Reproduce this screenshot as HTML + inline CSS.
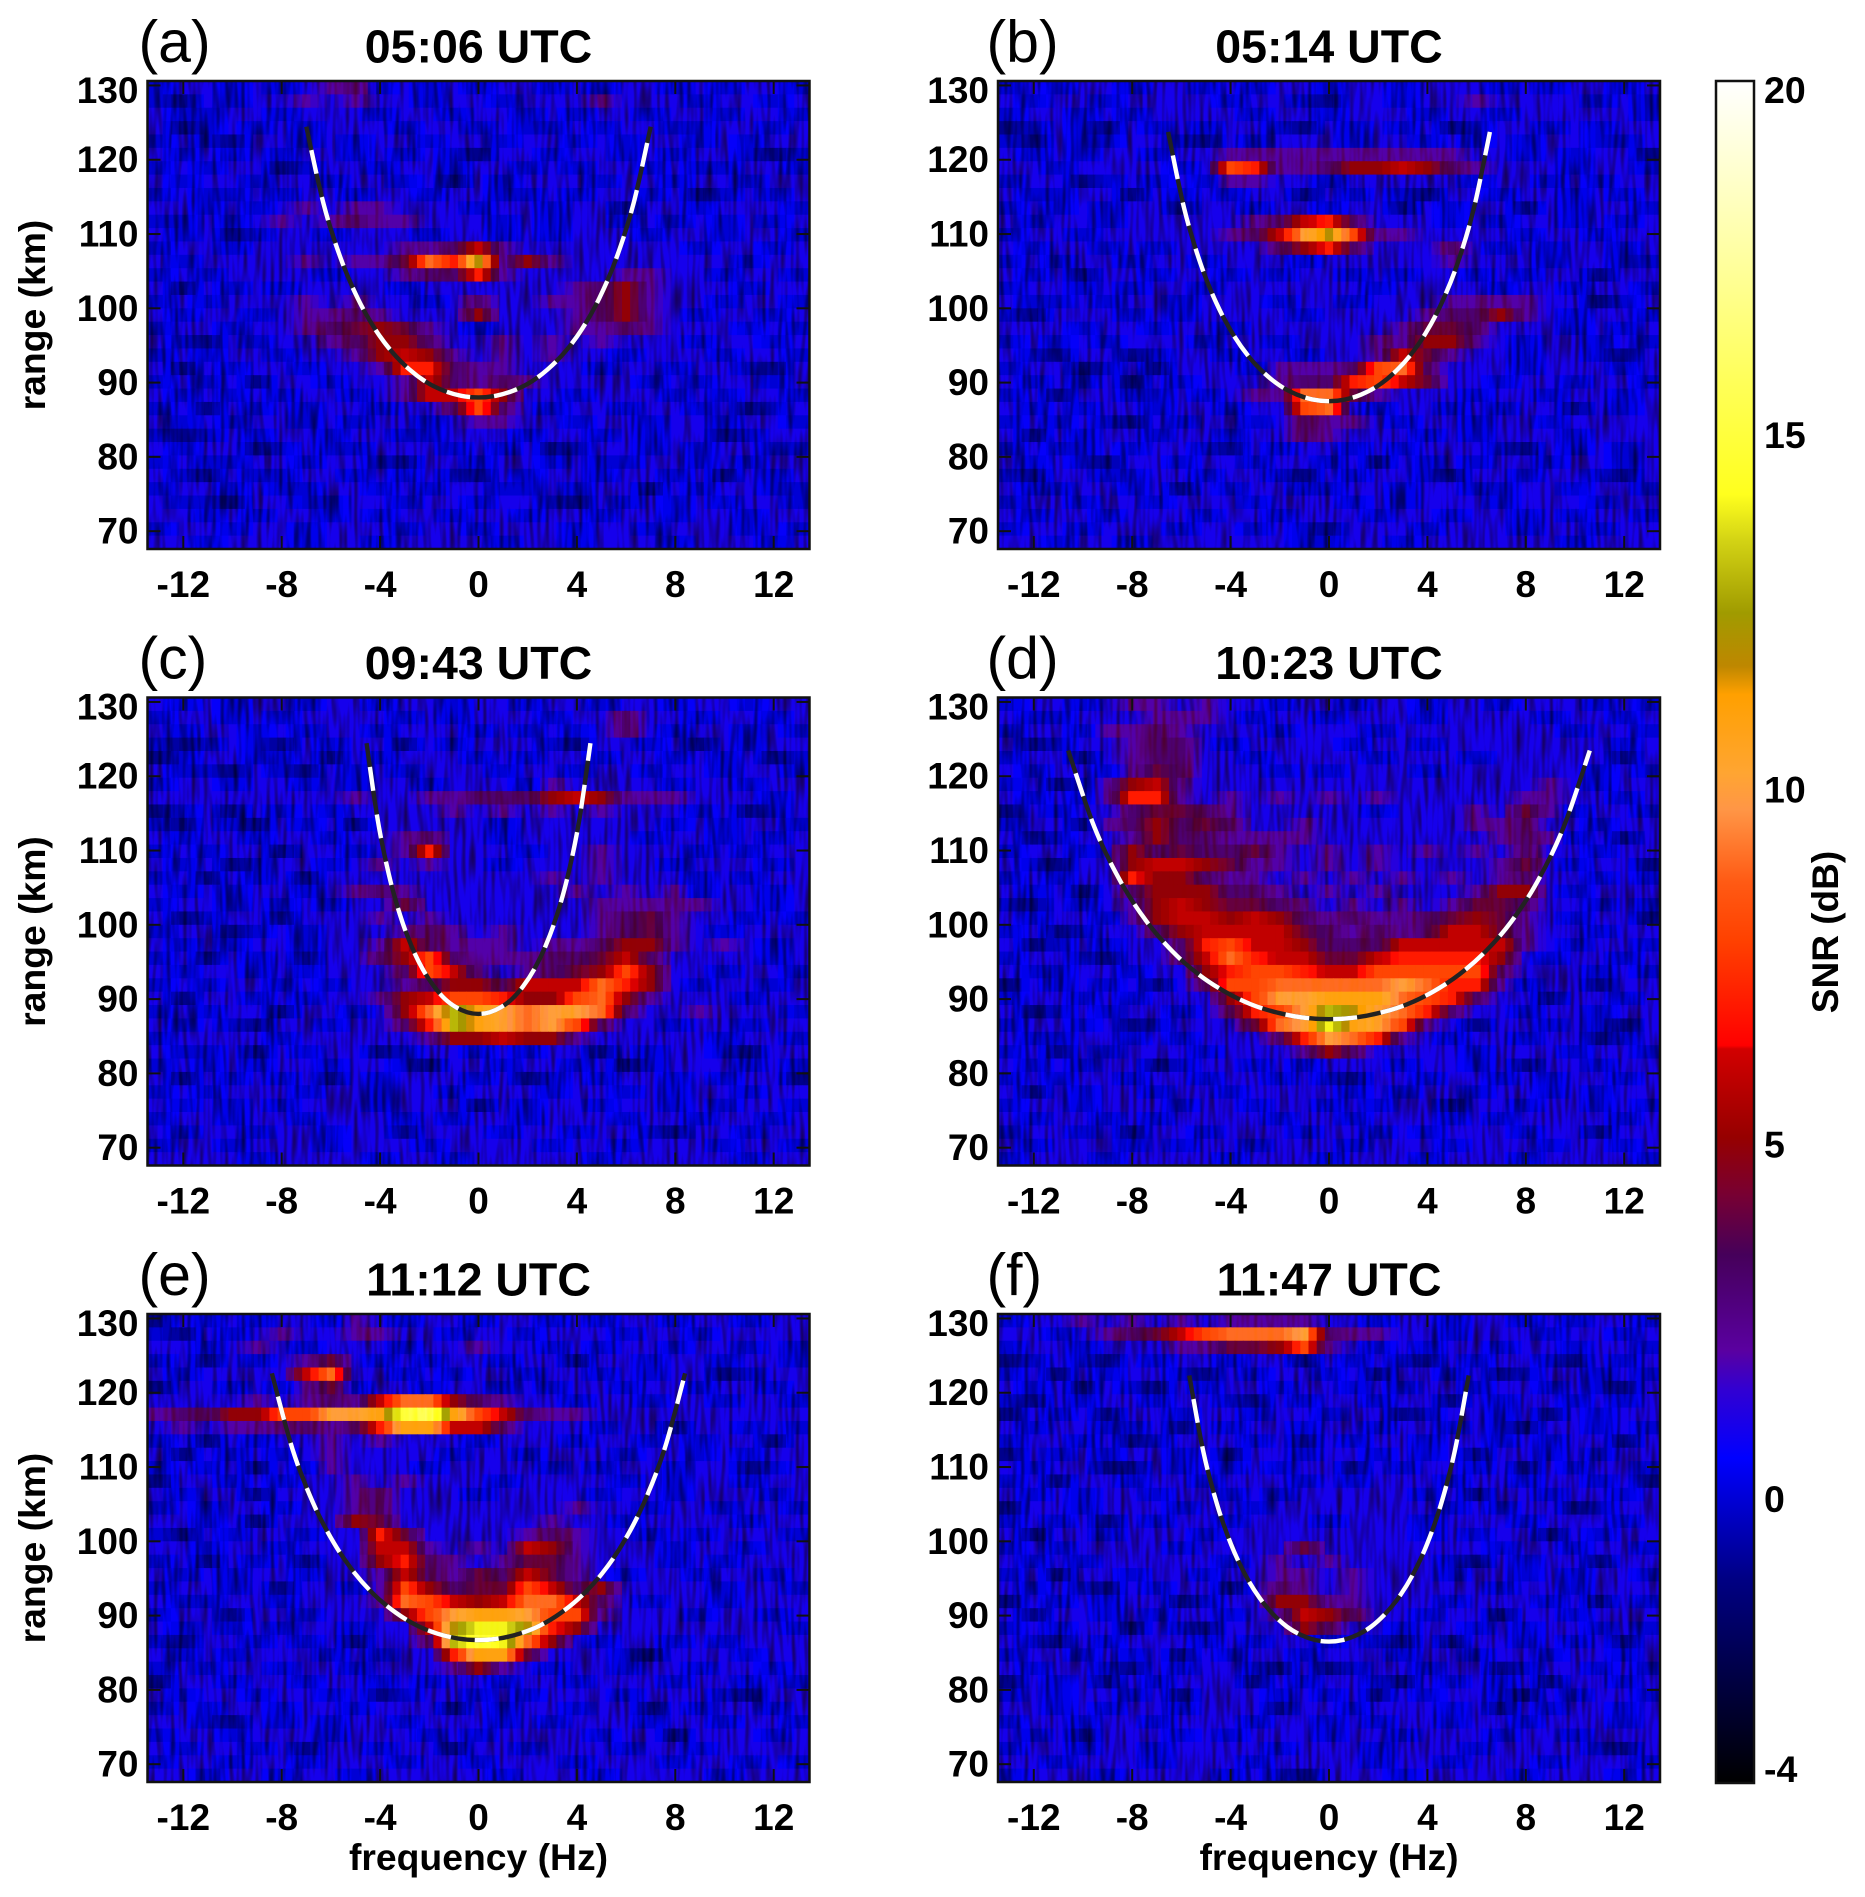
<!DOCTYPE html>
<html lang="en">
<head>
<meta charset="utf-8">
<title>SNR range-frequency panels</title>
<style>
html,body{margin:0;padding:0;background:#fff;}
svg{display:block;}
text{font-family:"Liberation Sans",Arial,sans-serif;fill:#000;}
.bold{font-weight:700;}
</style>
</head>
<body>
<svg id="chart" xmlns="http://www.w3.org/2000/svg" width="1865" height="1897" viewBox="0 0 1865 1897"></svg>
<script>
const panelNames = ["a","b","c","d","e","f"];
const panelTimes = ["05:06 UTC","05:14 UTC","09:43 UTC","10:23 UTC","11:12 UTC","11:47 UTC"];
const xTickValues = [-12,-8,-4,0,4,8,12];
const yTickValues = [70,80,90,100,110,120,130];
const colorbarTickValues = [20,15,10,5,0,-4];
const curveVertexKm = [88,87.5,88,87.3,86.7,86.5];
const curveEndHz = [7,6.54,4.55,10.6,8.4,5.68];
const curveU = [-1,-0.9,-0.8,-0.7,-0.6,-0.5,-0.4,-0.3,-0.2,-0.1,0,0.1,0.2,0.3,0.4,0.5,0.6,0.7,0.8,0.9,1];
const curveRatio = [1.4142,1.2964,1.2127,1.1509,1.1043,1.069,1.0426,1.023,1.0102,1.0025,1,1.0025,1.0102,1.023,1.0426,1.069,1.1043,1.1509,1.2127,1.2964,1.4142];
const colormapValues = [-4,-1.15,0.58,1.55,2.1,3.45,4.3,5.1,6.35,6.4,7.88,8.7,9.73,10.24,11.35,11.75,12.5,13.5,14.17,15.78,17.5,20];
const colormapReds = [0,0,0,50,90,70,120,150,210,255,255,255,255,255,255,190,160,210,255,255,255,255];
const colormapGreens = [0,0,0,0,0,0,0,0,0,0,65,90,150,165,160,135,155,210,255,255,255,255];
const colormapBlues = [0,130,255,210,160,90,50,0,0,0,0,20,70,50,0,0,0,20,30,90,160,255];

const snrA = [
[0,1,1,0,1,0,1,2,3,0,1,0,1,0,1,1,0,1,0,1,1,0,1,0,1,1,0],
[0,-1,1,0,1,1,2,1,2,1,1,0,1,1,0,1,1,1,2,1,1,1,0,1,1,0,1],
[1,0,0,1,1,0,1,1,1,0,1,1,0,1,1,0,1,0,1,1,0,1,1,0,1,1,0],
[1,-1,0,1,0,1,0,1,1,1,0,1,1,0,1,0,0,1,0,1,1,0,0,1,1,0,1],
[0,1,0,-1,1,1,0,1,0,1,1,0,1,1,0,1,1,0,1,0,1,1,0,1,0,1,1],
[1,0,1,0,1,0,1,1,0,1,0,1,0,-1,1,1,0,1,1,0,1,0,1,1,0,-1,0],
[0,1,0,1,1,-1,0,1,1,0,1,1,0,1,1,0,1,0,1,1,0,1,0,0,1,1,0],
[1,0,1,1,0,1,1,0,1,1,0,1,-1,1,0,1,1,1,0,1,1,0,1,1,0,1,1],
[0,1,0,0,1,0,1,1,0,1,1,0,1,1,0,0,1,0,1,1,0,1,-1,0,1,0,1],
[1,1,0,1,0,1,2,1,2,2,1,1,1,0,1,1,0,1,1,-1,1,1,0,1,1,1,0],
[0,0,1,0,1,2,1,2,3,2,2,1,1,1,0,1,0,1,1,0,1,0,1,0,1,0,1],
[1,0,1,-1,0,1,1,0,1,1,1,0,1,1,0,1,0,1,1,1,0,1,1,0,1,1,0],
[0,1,1,0,1,1,1,1,1,1,2,2,3,6,2,1,1,1,1,1,1,1,0,1,1,0,1],
[1,0,1,1,1,1,2,1,2,2,4,9,7,12,2,5,2,1,1,1,1,1,1,1,0,1,1],
[0,1,0,1,1,1,1,0,1,1,2,3,3,7,2,1,1,1,1,2,2,1,1,0,1,1,0],
[1,-1,1,0,1,0,1,1,1,1,0,1,1,1,1,1,1,2,3,5,2,1,1,1,0,1,1],
[0,1,0,1,1,1,2,1,2,1,1,0,1,3,1,1,2,2,3,5,2,1,1,0,1,1,0],
[1,0,1,1,0,1,2,2,3,2,1,1,1,5,1,1,1,2,3,5,2,1,0,1,1,0,1],
[0,1,1,0,1,1,2,3,4,5,4,2,1,0,1,1,1,2,2,3,2,1,1,1,0,1,0],
[1,0,-1,1,0,1,1,2,3,5,5,3,1,1,2,1,2,1,2,1,1,1,0,1,1,0,1],
[0,1,0,1,1,0,1,1,2,5,6,5,2,1,2,1,2,1,1,0,1,1,1,0,1,1,0],
[1,-1,1,0,1,1,0,1,1,2,7,7,3,2,2,1,1,1,0,1,1,0,1,1,0,-1,1],
[0,1,0,1,-1,1,1,0,1,1,2,6,3,2,3,2,1,1,1,1,0,1,0,1,1,0,1],
[1,0,1,0,1,0,1,1,0,1,2,6,6,8,5,1,1,0,1,1,1,0,1,0,1,1,0],
[0,1,-1,1,0,1,0,1,1,0,1,1,3,8,3,1,0,1,1,0,1,1,0,1,-1,0,1],
[1,0,1,0,1,1,0,1,0,1,1,0,1,2,2,1,1,0,1,1,0,1,1,0,1,1,0],
[0,-1,0,1,0,1,1,0,1,1,0,0,1,1,1,0,1,1,0,1,0,1,1,-1,0,1,1],
[1,0,1,1,-1,0,1,0,0,1,1,1,0,1,0,1,-1,0,1,1,0,1,0,1,1,0,0],
[0,1,0,0,1,1,0,1,1,0,-1,1,1,0,1,1,0,1,0,0,1,1,0,1,0,1,1],
[1,0,-1,1,0,0,1,1,0,1,0,1,0,-1,1,0,1,1,0,1,1,0,1,-1,1,0,1],
[0,1,1,0,1,0,0,1,1,0,1,0,1,1,0,0,1,0,1,1,-1,1,0,1,1,0,0],
[1,0,0,-1,1,1,0,0,1,1,0,1,1,0,1,1,0,-1,1,0,1,0,1,0,1,1,0],
[1,1,0,1,0,1,1,0,1,0,1,1,0,1,1,0,1,1,0,1,1,0,1,1,0,1,1],
[0,1,1,0,1,1,0,1,1,1,0,1,1,0,1,1,1,0,1,1,0,1,1,1,0,1,0],
[1,1,0,1,1,1,0,1,1,0,1,1,1,1,0,1,1,0,1,1,1,0,1,1,1,0,1]
];
const snrB = [
[0,1,0,1,1,0,1,1,0,1,0,1,1,0,1,1,0,1,1,1,0,1,0,1,1,0,1],
[1,0,1,1,0,1,1,1,1,0,1,1,0,-1,1,1,0,1,1,2,1,1,1,1,0,1,0],
[0,1,1,0,1,0,1,1,1,1,0,1,1,0,1,1,1,0,1,1,0,1,1,1,1,1,0],
[-1,0,1,0,-1,1,0,1,0,1,1,0,-1,1,0,1,0,1,-1,0,1,1,0,1,0,1,1],
[0,-1,1,0,0,1,1,0,-1,1,0,1,1,1,0,1,1,0,1,0,1,0,1,1,0,0,1],
[1,0,1,0,1,1,0,1,1,2,2,2,2,2,2,2,2,2,2,1,1,0,1,0,1,1,-1],
[1,1,0,1,1,1,1,0,1,8,7,2,2,3,5,5,6,5,3,2,1,1,1,0,1,1,0],
[0,1,1,-1,0,1,0,1,0,2,2,1,1,0,1,1,1,1,1,0,1,1,0,1,0,1,1],
[1,0,0,1,1,-1,1,0,1,0,1,1,-1,1,0,1,0,-1,1,1,0,1,1,0,1,0,1],
[0,1,0,1,0,1,1,-1,1,1,0,1,1,0,1,1,-1,1,0,1,1,-1,1,0,1,1,0],
[1,0,1,1,0,1,1,1,1,1,2,3,6,7,3,1,1,1,0,1,0,1,1,0,1,0,1],
[0,1,1,0,1,1,1,1,1,2,3,6,10,12,8,2,2,1,1,1,1,0,1,1,0,1,1],
[1,0,1,1,0,1,0,1,1,1,1,3,5,7,3,1,1,1,3,1,0,1,0,1,1,0,1],
[0,1,0,1,1,0,1,1,0,1,1,1,0,1,1,1,1,1,2,1,1,1,0,1,1,0,0],
[1,0,1,-1,1,1,0,1,1,0,1,0,1,1,0,1,0,1,1,0,1,0,1,1,-1,1,1],
[0,1,1,0,1,0,1,1,0,1,1,1,1,1,1,0,1,1,1,1,0,1,1,0,1,1,0],
[1,0,0,1,0,1,1,0,1,1,1,0,1,1,0,1,1,1,2,2,2,2,1,1,-1,0,1],
[0,-1,1,1,1,0,1,0,1,1,1,1,0,1,1,1,1,2,3,3,5,2,1,0,1,1,0],
[1,1,1,0,1,1,0,1,1,0,1,1,1,1,1,1,2,4,4,3,1,1,1,0,1,0,1],
[0,1,0,1,0,1,1,1,0,1,1,0,1,1,1,2,2,5,5,2,1,0,1,1,0,1,0],
[1,0,-1,1,1,-1,0,1,1,0,1,1,0,1,1,2,6,4,2,1,1,0,1,1,0,-1,1],
[0,1,1,-1,0,1,-1,1,1,1,0,2,2,2,3,8,9,3,1,1,1,0,1,1,1,0,1],
[1,0,1,0,1,-1,1,0,1,1,1,2,3,3,7,8,6,4,1,1,0,1,1,0,1,1,0],
[0,1,-1,1,1,0,0,1,0,1,2,2,9,9,4,2,1,1,1,0,1,1,0,1,1,0,1],
[1,0,1,0,1,1,0,1,1,0,1,1,8,9,1,0,1,1,0,1,0,1,1,-1,1,0,1],
[0,1,0,1,0,-1,1,0,1,1,0,1,3,2,2,1,0,1,1,0,1,1,0,1,1,1,1],
[1,-1,1,0,1,1,0,1,1,0,1,1,3,2,1,1,1,0,1,0,1,1,1,0,1,1,1],
[0,1,0,0,1,0,1,1,0,-1,1,0,1,1,0,1,0,1,1,1,0,-1,1,0,1,0,1],
[1,0,1,0,-1,1,1,0,1,1,0,1,1,0,1,-1,1,0,1,0,1,1,0,1,1,0,1],
[0,-1,1,1,0,0,1,1,0,1,1,0,-1,1,0,1,1,0,-1,1,1,0,1,1,0,-1,1],
[1,0,0,1,1,0,1,-1,1,0,1,1,0,0,1,1,0,1,1,0,0,1,1,0,1,1,0],
[0,1,1,0,1,1,0,1,1,1,0,1,1,1,0,1,0,1,1,1,0,1,1,1,0,1,1],
[1,0,1,1,0,1,1,1,0,1,1,0,1,1,1,0,1,1,0,1,1,0,1,0,1,1,0],
[0,1,1,0,1,1,1,0,1,1,0,1,0,-1,1,1,1,0,1,1,1,0,1,1,0,1,1],
[1,1,0,1,1,0,1,1,1,1,1,1,0,0,1,1,0,1,1,1,1,1,1,0,1,1,1]
];
const snrC = [
[1,0,1,0,1,1,0,1,1,0,1,1,0,1,1,0,1,1,0,1,1,0,1,1,0,1,1],
[0,1,1,0,1,0,1,1,1,1,0,1,0,1,1,1,0,1,1,3,1,1,0,1,1,0,1],
[1,0,1,1,0,1,0,1,1,0,1,1,1,0,1,0,1,0,1,3,1,0,1,1,0,1,0],
[0,-1,0,1,0,-1,1,0,1,1,-1,1,0,1,1,1,0,-1,1,1,0,1,-1,1,0,1,1],
[-1,0,1,1,0,0,1,-1,1,0,1,1,1,0,1,0,1,1,0,1,1,0,1,0,1,-1,0],
[1,0,0,-1,1,0,-1,1,0,1,0,1,1,1,0,1,1,0,1,1,0,1,1,0,1,1,0],
[0,1,1,0,1,1,0,1,0,1,1,0,1,1,1,0,2,1,1,1,1,0,1,1,0,1,1],
[1,1,1,1,1,1,1,1,2,1,1,2,2,3,3,3,5,6,5,2,2,2,1,1,1,0,1],
[-1,0,1,-1,1,0,1,0,1,1,1,1,2,1,2,1,2,1,2,1,1,1,0,1,-1,0,1],
[0,-1,1,0,-1,1,0,1,-1,1,1,1,1,1,0,1,1,1,1,1,1,0,1,0,1,1,0],
[1,0,1,1,0,1,1,0,1,1,2,3,1,1,0,1,1,1,1,1,0,1,1,0,1,0,1],
[0,1,0,1,1,-1,1,1,0,1,2,7,1,1,1,0,1,1,2,1,1,1,0,1,0,1,1],
[1,0,1,-1,0,1,1,0,1,2,1,2,1,1,0,1,1,1,2,1,1,0,1,1,1,0,1],
[0,1,-1,1,0,1,-1,1,1,1,1,1,1,1,1,1,2,1,2,1,1,1,0,1,0,1,1],
[1,0,1,0,1,1,0,1,2,3,2,1,1,1,1,1,1,2,1,2,1,2,0,1,1,0,1],
[0,1,1,0,1,0,1,0,1,1,4,1,1,1,1,1,1,1,2,2,2,2,2,1,1,0,1],
[1,-1,0,1,1,-1,1,1,1,2,1,2,1,1,1,1,1,1,2,3,4,2,1,1,0,1,0],
[0,1,1,-1,0,1,0,1,1,1,2,3,2,1,2,1,1,1,2,3,4,2,1,0,1,1,1],
[1,0,1,0,1,1,0,1,1,2,6,3,2,2,2,1,2,2,3,5,5,2,1,2,1,0,1],
[0,1,-1,1,0,1,-1,1,1,3,5,8,3,2,2,2,3,3,4,6,3,1,1,1,1,0,1],
[1,0,1,1,0,1,0,1,1,1,3,8,6,2,1,2,3,4,5,8,5,1,1,0,1,1,0],
[0,1,0,1,1,0,1,0,1,1,2,3,5,5,3,6,6,6,9,7,5,1,0,1,1,0,1],
[1,-1,1,1,0,1,0,1,1,2,5,6,8,8,7,5,5,8,9,5,2,1,1,1,0,1,1],
[0,1,0,1,1,-1,1,1,0,1,5,9,13,11,10,9,10,10,9,3,1,1,2,1,1,1,0],
[1,0,1,0,-1,1,1,0,1,1,3,7,13,11,10,9,10,8,3,1,1,0,1,1,0,1,1],
[0,1,1,1,1,0,1,1,1,1,1,2,5,5,6,5,5,2,1,1,1,1,1,0,1,1,0],
[1,0,0,1,-1,1,0,1,1,-1,0,1,1,0,1,0,1,1,-1,1,0,1,1,0,-1,1,1],
[0,1,0,1,0,1,1,0,1,1,0,-1,1,1,0,1,1,0,1,-1,0,1,1,1,0,1,0],
[1,-1,1,0,1,0,1,-1,1,0,1,1,1,0,1,-1,0,1,0,1,1,0,1,0,1,1,-1],
[0,1,0,1,1,1,0,1,1,0,1,1,0,1,1,1,0,1,1,0,1,0,1,1,0,1,1],
[1,0,1,0,1,0,1,1,1,0,1,1,1,-1,1,0,1,1,0,1,1,0,1,0,1,1,0],
[0,1,1,0,1,1,0,1,1,1,0,1,0,1,1,0,1,1,1,0,1,1,0,1,1,0,1],
[1,0,1,1,0,1,1,0,1,1,-1,1,1,1,0,1,1,0,1,1,0,-1,1,1,0,1,1],
[0,1,1,0,1,1,1,0,1,1,1,0,1,1,1,1,0,1,1,0,1,1,1,0,1,1,0],
[1,1,1,1,0,1,1,1,1,0,1,1,0,1,1,1,1,1,0,1,1,1,1,1,0,1,1]
];
const snrD = [
[0,1,1,0,1,2,2,1,2,1,1,0,1,1,0,1,1,0,1,1,0,1,1,1,0,1,0],
[1,0,0,1,1,1,2,2,2,1,0,1,1,0,1,1,1,0,1,1,1,1,0,1,1,0,1],
[0,1,1,0,2,2,3,2,1,1,1,0,1,1,1,0,1,1,1,1,1,1,1,0,1,1,0],
[1,-1,0,1,1,2,3,3,1,0,1,1,1,1,0,1,1,0,1,1,1,1,1,1,1,0,1],
[0,1,1,-1,1,2,3,3,1,1,0,1,1,1,1,0,1,1,1,0,1,1,1,1,1,-1,1],
[1,0,1,1,0,2,4,3,1,1,1,0,1,0,1,1,1,0,1,1,1,1,1,1,0,1,0],
[0,1,-1,0,2,5,6,2,1,1,1,1,1,1,1,1,1,1,1,1,1,1,2,1,0,1,1],
[1,0,1,0,2,7,7,2,1,2,1,2,1,2,1,2,1,1,1,1,1,2,2,1,1,0,1],
[-1,1,0,1,1,3,4,4,3,2,1,1,1,1,1,0,1,1,1,2,1,4,2,0,1,1,0],
[0,1,1,-1,2,3,5,3,4,3,1,1,2,1,1,1,1,1,1,2,2,3,1,1,0,1,1],
[1,-1,0,1,1,2,5,3,3,2,2,2,2,1,1,1,1,1,1,1,2,3,2,0,1,-1,1],
[0,1,1,0,1,5,3,4,3,3,4,2,1,2,1,2,1,2,1,2,1,3,1,1,0,1,1],
[1,0,-1,1,1,5,6,6,5,4,2,2,1,2,1,2,1,1,1,1,2,4,1,0,1,1,-1],
[0,1,0,1,1,7,5,5,3,2,2,1,2,1,2,1,2,1,2,1,2,3,1,1,0,1,0],
[1,0,1,-1,1,3,5,5,5,3,3,2,1,2,1,2,1,1,1,2,5,5,1,0,1,1,1],
[0,-1,1,0,1,2,5,6,5,4,4,3,2,1,2,1,2,1,2,4,4,3,1,1,0,1,0],
[1,0,1,1,0,2,5,6,6,5,6,5,3,2,3,2,2,3,4,5,4,2,1,0,1,1,-1],
[0,1,-1,0,1,1,3,5,6,6,6,6,4,3,2,3,2,3,6,6,4,2,1,1,0,1,1],
[1,-1,0,1,0,1,1,3,7,8,6,6,5,3,3,3,6,6,6,6,6,2,1,0,1,1,0],
[0,1,1,0,-1,1,1,3,6,9,7,6,6,4,4,6,7,7,7,7,5,1,0,1,1,0,1],
[1,0,0,1,1,0,1,1,5,7,8,8,7,6,6,8,8,8,8,8,3,1,1,1,0,1,0],
[-1,1,0,1,0,1,-1,1,3,8,8,9,9,9,9,9,10,9,7,7,2,0,1,1,-1,1,1],
[0,1,1,0,1,0,1,1,1,5,8,10,10,11,11,11,9,8,7,3,1,1,-1,1,1,0,1],
[1,-1,0,1,0,1,1,0,1,3,7,8,10,13,12,10,9,7,3,1,1,0,1,1,0,1,1],
[0,1,1,0,1,-1,0,1,1,1,4,9,10,14,11,10,8,2,1,-1,1,1,0,1,0,-1,1],
[1,0,0,1,1,0,1,0,1,1,1,3,7,10,9,7,2,1,0,1,1,0,1,1,-1,0,1],
[0,1,-1,1,0,1,1,1,0,1,1,1,2,5,3,1,1,1,1,0,1,1,1,0,1,1,0],
[1,0,1,0,1,1,-1,0,1,1,0,1,0,1,1,1,0,1,1,0,1,-1,1,1,0,1,1],
[0,1,0,1,1,0,1,1,0,1,1,0,1,0,-1,1,1,0,1,1,0,1,0,1,1,0,1],
[1,-1,1,0,1,1,0,1,1,0,1,1,1,1,0,1,0,1,1,0,1,1,0,1,0,1,1],
[0,1,1,0,1,1,1,0,1,1,0,1,1,0,1,0,1,1,-1,1,1,0,1,1,0,1,0],
[1,0,1,1,0,1,0,1,1,1,1,0,1,1,0,1,1,1,0,1,0,1,1,1,1,0,1],
[0,1,1,0,1,-1,1,1,0,1,1,1,0,1,1,0,1,0,1,1,1,0,1,1,-1,1,1],
[1,0,1,1,1,0,1,0,1,1,0,1,1,1,0,1,1,1,0,1,1,1,0,1,1,0,1],
[0,1,1,1,0,1,1,1,1,0,1,1,1,0,1,1,1,0,1,1,1,0,1,1,1,1,0]
];
const snrE = [
[-1,1,0,1,0,1,1,0,2,1,0,1,1,0,1,1,0,1,0,1,1,0,1,1,0,1,1],
[0,-1,1,0,1,2,1,1,2,2,1,1,0,1,1,0,1,1,1,0,1,1,0,1,1,1,1],
[1,1,0,1,2,1,0,1,1,1,0,1,1,2,1,1,0,1,0,1,1,0,1,1,0,1,0],
[0,1,-1,1,0,1,2,4,1,0,1,0,1,1,0,1,1,-1,1,1,0,1,1,0,1,1,0],
[1,0,1,1,1,1,6,9,1,1,0,1,0,1,1,0,1,1,0,1,0,1,1,-1,0,1,1],
[-1,1,1,0,1,0,2,4,0,1,1,0,1,1,0,1,0,1,1,0,1,1,0,1,1,0,1],
[1,1,1,1,2,1,2,3,2,6,9,9,5,3,2,1,1,0,1,1,0,1,1,0,1,1,0],
[2,3,3,5,5,8,8,10,10,11,15,16,11,8,6,3,2,2,1,1,1,1,1,1,1,1,1],
[1,2,1,2,2,2,3,2,3,7,11,11,6,6,3,1,1,1,0,1,1,-1,1,1,0,1,0],
[0,1,-1,1,0,1,1,2,1,2,1,1,1,0,1,1,1,0,1,1,0,1,0,1,1,-1,1],
[1,-1,1,0,1,0,1,2,1,1,1,1,0,1,1,0,1,1,1,0,1,1,0,1,0,1,1],
[0,1,0,1,-1,1,0,2,1,1,1,0,1,1,1,1,0,1,0,1,1,0,1,1,-1,0,1],
[-1,1,1,0,1,0,1,1,2,1,2,1,1,1,0,1,1,1,1,0,1,0,1,1,0,1,1],
[1,0,1,1,-1,1,1,1,2,3,1,1,1,0,1,1,1,1,0,1,1,0,1,1,1,0,1],
[0,1,0,1,1,0,1,1,2,3,1,1,1,1,1,1,1,2,1,1,0,1,1,0,1,1,0],
[1,1,0,1,-1,1,1,1,5,4,1,1,1,1,1,1,2,1,1,0,1,1,1,1,0,1,1],
[0,-1,1,0,1,1,0,1,1,7,4,1,1,1,1,2,3,2,1,1,0,1,0,1,1,1,0],
[1,1,0,1,1,0,1,1,1,6,6,2,1,2,1,6,5,2,1,1,1,0,1,1,0,1,1],
[0,1,-1,1,0,1,-1,1,1,5,7,3,2,1,2,4,4,2,1,1,1,0,1,0,1,1,1],
[1,0,1,0,1,1,0,1,1,2,6,3,2,4,3,6,4,2,1,0,1,1,0,1,1,0,1],
[0,1,1,0,1,-1,1,1,0,2,8,5,3,4,4,8,6,3,5,1,1,1,1,0,1,1,0],
[1,0,0,1,1,0,1,1,1,2,9,8,6,5,6,9,9,6,3,1,0,1,1,0,1,1,1],
[0,1,1,-1,1,1,0,1,1,1,5,8,10,11,11,10,8,8,2,1,1,1,0,1,1,0,1],
[1,0,1,0,1,0,1,1,0,1,1,6,12,14,14,12,7,5,1,1,1,1,1,1,1,1,0],
[0,-1,1,1,0,1,0,1,-1,1,1,3,13,15,14,9,5,1,0,1,1,0,1,0,1,1,1],
[1,0,1,0,1,1,1,0,1,0,1,1,7,11,11,4,1,1,1,0,-1,1,1,1,0,1,1],
[0,1,0,1,1,0,1,1,0,1,1,1,2,5,2,1,0,1,1,0,1,1,0,1,1,0,1],
[-1,1,1,0,1,1,0,1,1,0,1,0,1,1,0,1,1,0,1,1,1,0,1,1,0,1,0],
[1,0,1,1,0,1,1,0,1,-1,0,1,1,0,1,0,1,1,1,0,1,1,1,0,-1,1,1],
[0,1,0,1,1,0,1,1,0,1,1,1,-1,1,0,1,1,0,1,1,-1,1,0,1,1,0,1],
[1,1,0,-1,1,0,1,0,1,1,0,1,1,1,0,1,0,1,1,1,0,1,1,0,1,1,0],
[0,1,1,0,1,1,1,0,1,1,1,0,1,0,1,1,1,1,0,1,1,-1,1,1,1,0,1],
[1,0,1,1,0,1,-1,1,1,0,1,1,-1,1,1,0,1,1,1,0,1,1,0,1,1,1,1],
[0,1,1,0,1,1,0,1,1,1,0,1,1,0,1,1,1,0,1,1,1,0,1,1,0,1,0],
[1,1,0,1,1,0,1,1,0,1,1,1,1,1,0,1,1,1,0,1,1,1,1,0,1,1,1]
];
const snrF = [
[0,1,1,2,1,2,1,2,1,2,2,2,2,1,1,0,1,1,0,1,1,0,1,0,1,1,0],
[1,1,0,1,2,3,4,6,8,9,9,9,10,3,2,2,1,1,0,1,1,1,0,1,1,0,1],
[0,1,1,0,1,1,1,2,2,4,4,5,8,2,1,0,1,0,1,1,0,1,1,0,1,1,0],
[-1,0,1,0,-1,1,0,1,1,0,1,1,-1,1,0,1,0,-1,1,0,1,1,0,-1,1,0,1],
[0,1,-1,1,0,1,1,0,-1,1,0,1,1,0,1,-1,1,1,0,1,-1,0,1,1,0,1,0],
[1,0,1,-1,1,0,-1,1,0,1,1,0,1,1,0,1,0,1,1,0,1,1,0,1,0,-1,1],
[0,-1,1,0,1,1,0,1,1,0,-1,1,0,1,1,0,1,1,-1,1,0,1,1,0,1,0,1],
[-1,1,0,1,-1,1,1,0,1,1,0,1,1,0,1,1,-1,0,1,1,0,1,-1,1,0,1,1],
[1,0,1,1,0,0,1,-1,1,0,1,1,0,1,1,0,1,1,0,1,0,-1,1,1,0,1,0],
[0,1,1,0,1,-1,0,1,1,1,0,1,-1,1,0,1,1,0,1,1,0,1,0,1,1,-1,1],
[-1,1,0,1,0,1,1,0,1,-1,1,1,0,1,1,0,1,0,1,-1,1,1,0,1,0,1,1],
[1,0,1,1,-1,-1,1,0,1,0,1,0,1,1,-1,1,0,1,1,0,1,-1,1,0,1,1,0],
[0,1,-1,1,1,0,1,1,0,1,1,1,0,1,0,1,1,1,0,1,1,0,1,1,0,1,-1],
[1,0,1,0,1,1,0,1,1,0,1,0,1,1,1,1,1,0,1,-1,1,1,0,1,1,0,1],
[-1,1,1,0,1,1,1,0,1,1,0,1,1,1,1,1,1,1,0,1,0,1,1,-1,0,1,1],
[0,1,0,1,-1,1,0,1,1,0,1,1,1,0,1,1,1,0,1,1,1,0,1,1,1,0,1],
[1,-1,1,1,0,1,1,1,0,1,1,1,1,1,1,1,1,0,1,0,1,1,-1,1,0,1,1],
[0,1,0,1,1,1,1,0,1,1,1,1,4,1,1,1,1,1,1,1,0,1,1,0,1,1,0],
[1,0,1,0,1,1,1,1,1,0,1,2,1,2,1,1,1,1,0,-1,1,0,1,1,-1,1,1],
[0,1,-1,1,1,0,1,1,0,1,1,2,2,1,2,1,1,1,0,1,1,0,1,0,1,1,0],
[1,0,1,0,-1,1,0,1,1,-1,1,3,2,1,2,1,1,1,1,1,0,1,1,0,1,1,1],
[-1,1,0,1,0,1,1,-1,0,1,1,5,5,2,2,1,1,1,0,1,1,1,0,1,-1,1,0],
[1,-1,1,1,0,1,0,1,1,0,1,2,6,5,3,1,1,0,1,1,-1,1,1,0,1,1,1],
[0,1,0,1,1,-1,1,0,-1,1,1,1,5,3,1,1,0,1,1,0,1,0,1,1,0,1,0],
[1,0,-1,1,0,1,1,1,0,1,0,1,1,0,1,0,-1,1,-1,1,1,0,1,0,1,-1,1],
[0,1,1,0,1,0,1,-1,1,0,1,1,0,1,1,1,0,1,1,0,1,1,0,1,1,0,1],
[1,0,1,1,0,-1,1,0,1,1,0,-1,1,-1,0,1,1,0,1,1,-1,0,1,1,0,1,0],
[-1,1,0,1,-1,1,0,1,1,1,-1,1,0,1,1,0,-1,1,0,1,0,1,-1,1,1,0,1],
[0,1,0,1,1,0,1,-1,1,1,1,0,1,0,1,-1,1,0,1,1,0,-1,1,0,1,1,0],
[1,1,0,1,0,1,1,0,1,1,1,-1,1,1,0,1,1,1,0,1,-1,1,0,1,1,0,1],
[0,1,1,0,1,1,0,1,1,1,0,1,1,0,1,0,1,1,0,1,1,0,1,1,1,0,1],
[1,0,1,-1,1,1,1,0,1,0,1,1,1,0,1,1,0,1,1,1,0,1,1,0,1,1,1],
[0,1,1,0,1,1,0,1,1,1,1,0,1,1,1,0,1,1,1,0,1,1,1,1,0,-1,1],
[1,1,0,1,1,1,0,1,1,1,0,1,1,1,1,0,1,1,0,1,1,1,0,1,1,1,0],
[0,1,1,1,0,1,1,1,1,0,1,0,-1,1,1,1,0,1,1,1,1,0,1,1,1,0,1]
];
const panelSnr = [snrA,snrB,snrC,snrD,snrE,snrF];

const frequencyBinsHz = [-13,-12,-11,-10,-9,-8,-7,-6,-5,-4,-3,-2,-1,0,1,2,3,4,5,6,7,8,9,10,11,12,13];
const rangeTopKm = 130.6;
const rangeStepKm = 1.8;

const NS = "http://www.w3.org/2000/svg";
const svg = document.getElementById("chart");
const PW = 662, PH = 468;
const lefts = [147.5,998];
const tops = [81,697.5,1314];
const HZ = 13.455;

function make(tag, attrs, parent){
  const e = document.createElementNS(NS, tag);
  for(const k in attrs) e.setAttribute(k, attrs[k]);
  (parent||svg).appendChild(e);
  return e;
}
function snrColor(v){
  const m = colormapValues;
  if(v <= m[0]) return "rgb(0,0,0)";
  for(let i=1;i<m.length;i++){
    if(v <= m[i]){
      const t = (v-m[i-1])/(m[i]-m[i-1]);
      const r = colormapReds[i-1]+t*(colormapReds[i]-colormapReds[i-1]);
      const g = colormapGreens[i-1]+t*(colormapGreens[i]-colormapGreens[i-1]);
      const b = colormapBlues[i-1]+t*(colormapBlues[i]-colormapBlues[i-1]);
      return "rgb("+Math.round(r)+","+Math.round(g)+","+Math.round(b)+")";
    }
  }
  return "rgb(255,255,255)";
}

const defs = make("defs",{});
const grad = make("linearGradient",{id:"cbar",x1:0,y1:1,x2:0,y2:0},defs);
colormapValues.forEach((v,i)=>{
  make("stop",{offset:((v+4)/24),"stop-color":"rgb("+colormapReds[i]+","+colormapGreens[i]+","+colormapBlues[i]+")"},grad);
});
const stripeFilter = make("filter",{id:"stripes",x:0,y:0,width:1,height:1,"color-interpolation-filters":"sRGB"},defs);
make("feTurbulence",{type:"fractalNoise",baseFrequency:"0.24 0.025",numOctaves:1,seed:3},stripeFilter);
make("feColorMatrix",{type:"matrix",values:"0 0 0 0 1  0 0 0 0 1  0 0 0 0 0  1.6 0 0 0 -0.68"},stripeFilter);

panelNames.forEach((name,p)=>{
  const left = lefts[p%2], top = tops[Math.floor(p/2)];
  const xOf = f => left + PW/2 + f*(PW/(2*HZ));
  const yOf = r => top + (rangeTopKm - r)*(PH/63);

  const clip = make("clipPath",{id:"clip-"+name},defs);
  make("rect",{x:left,y:top,width:PW,height:PH},clip);

  const group = make("g",{"clip-path":"url(#clip-"+name+")"});
  
  
  const rows = panelSnr[p];
  const subW = xOf(1/3)-xOf(0);
  rows.forEach((row,i)=>{
    const rTop = rangeTopKm - i*rangeStepKm;
    const rBot = rangeTopKm - (i+1)*rangeStepKm;
    const y0 = yOf(rTop), y1 = yOf(rBot);
    frequencyBinsHz.forEach((f,k)=>{
      const v = row[k] === undefined ? 0 : row[k];
      const vl = k>0 ? row[k-1] : v;
      const vr = k<row.length-1 ? row[k+1] : v;
      const subs = [0.68*v+0.32*vl, v, 0.68*v+0.32*vr];
      subs.forEach((sv,s)=>{
        const rect = make("rect",{x:(xOf(f-0.5+s/3)).toFixed(2),y:y0.toFixed(2),width:(subW+0.6).toFixed(2),height:(y1-y0+0.5).toFixed(2),fill:snrColor(sv)},group);
        
        
      });
    });
  });
  const texture = make("rect",{x:left,y:top,width:PW,height:PH,fill:"#000",filter:"url(#stripes)",style:"mix-blend-mode:multiply"},group);
  
  

  // fitted curve
  const pts = curveU.map((u,i)=>[xOf(u*curveEndHz[p]), yOf(curveVertexKm[p]*curveRatio[i])]);
  let d = "M"+pts[0][0].toFixed(2)+" "+pts[0][1].toFixed(2);
  for(let i=0;i<pts.length-1;i++){
    const a = pts[Math.max(i-1,0)], b = pts[i], c = pts[i+1], e = pts[Math.min(i+2,pts.length-1)];
    d += " C"+(b[0]+(c[0]-a[0])/6).toFixed(2)+" "+(b[1]+(c[1]-a[1])/6).toFixed(2)+" "+(c[0]-(e[0]-b[0])/6).toFixed(2)+" "+(c[1]-(e[1]-b[1])/6).toFixed(2)+" "+c[0].toFixed(2)+" "+c[1].toFixed(2);
  }
  const base = make("path",{d:d,fill:"none",stroke:"#222","stroke-width":4.4});
  
  
  const dash = make("path",{d:d,fill:"none",stroke:"#fff","stroke-width":4.4,"stroke-dasharray":"24 24","stroke-dashoffset":"-24"});
  
  

  // ticks
  xTickValues.forEach(t=>{
    const x = xOf(t);
    const t1 = make("line",{x1:x,x2:x,y1:top+PH,y2:top+PH-13,stroke:"#111","stroke-width":2});
    
    
    const t2 = make("line",{x1:x,x2:x,y1:top,y2:top+13,stroke:"#111","stroke-width":2});
    
    
    const lab = make("text",{x:x,y:top+PH+48,"text-anchor":"middle","font-size":37,"class":"bold"});
    
    
    lab.textContent = t;
  });
  yTickValues.forEach(t=>{
    const y = yOf(t);
    const t1 = make("line",{x1:left,x2:left+13,y1:y,y2:y,stroke:"#111","stroke-width":2});
    
    
    const t2 = make("line",{x1:left+PW,x2:left+PW-13,y1:y,y2:y,stroke:"#111","stroke-width":2});
    
    
    const nudge = t===130 ? 5 : 0;
    const lab = make("text",{x:left-9,y:y+12.5+nudge,"text-anchor":"end","font-size":37,"class":"bold"});
    
    
    lab.textContent = t;
  });

  const frame = make("rect",{x:left,y:top,width:PW,height:PH,fill:"none",stroke:"#111","stroke-width":2.5});
  
  

  const title = make("text",{x:left+PW/2,y:top-18.5,"text-anchor":"middle","font-size":46.5,"class":"bold"});
  
  
  title.textContent = panelTimes[p];

  const letter = make("text",{x:left-(p%2===0?9:11.5),y:top-19,"font-size":59});
  
  
  letter.textContent = "("+name+")";

  if(p%2===0){
    const cy = top+PH/2;
    const yl = make("text",{x:0,y:0,transform:"translate(45 "+cy+") rotate(-90)","text-anchor":"middle","font-size":37.3,"class":"bold"});
    
    
    yl.textContent = "range (km)";
  }
  if(p>=4){
    const xl = make("text",{x:left+PW/2,y:1870,"text-anchor":"middle","font-size":37.3,"class":"bold"});
    
    
    xl.textContent = "frequency (Hz)";
  }
});

// colorbar
const cbX = 1716, cbW = 38, cbT = 81, cbB = 1783;
const cb = make("rect",{x:cbX,y:cbT,width:cbW,height:cbB-cbT,fill:"url(#cbar)",stroke:"#111","stroke-width":2.5});


colorbarTickValues.forEach(v=>{
  const y = cbT + (20-v)*(cbB-cbT)/24;
  const ny = v===20 ? y+22 : (v===-4 ? y-1 : y+12.5);
  const lab = make("text",{x:1764,y:ny,"font-size":37.5,"class":"bold"});
  
  
  lab.textContent = v;
});
const cbl = make("text",{x:0,y:0,transform:"translate(1838 932) rotate(-90)","text-anchor":"middle","font-size":37,"class":"bold"});


cbl.textContent = "SNR (dB)";
</script>
</body>
</html>
